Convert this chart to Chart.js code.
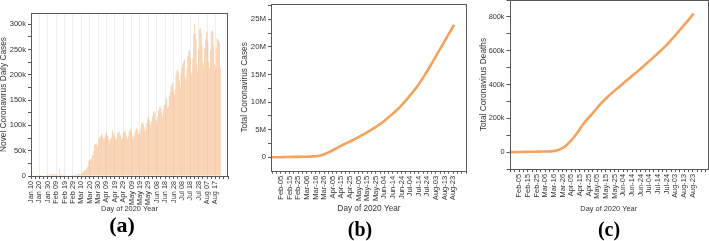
<!DOCTYPE html>
<html>
<head>
<meta charset="utf-8">
<script src="https://cdn.jsdelivr.net/npm/chart.js@4"></script>
<style>
  html, body { margin: 0; padding: 0; background: #fff; }
  body { width: 709px; height: 241px; position: relative; overflow: hidden; }
  canvas { position: absolute; }
  .panel-label { position: absolute; width: 100px; text-align: center; font-family: "Liberation Serif", "Times New Roman", serif; font-weight: bold; line-height: 1; color: #000; }
</style>
</head>
<body>
<canvas id="ca"></canvas>
<canvas id="cb"></canvas>
<canvas id="cc"></canvas>
<div class="panel-label" style="left:72px; top:214px; font-size:22px;">(a)</div>
<div class="panel-label" style="left:310px; top:219px; font-size:20px;">(b)</div>
<div class="panel-label" style="left:559px; top:219px; font-size:20px;">(c)</div>
<script>
// ---------------- DATA ----------------
// (a) daily new cases (thousands), one value per day starting Jan 10, 2020
const dailyStart = '01-10';
const dailyCasesK = [
  // Jan 10 - Jan 31
  0,0,0,0,0,0,0,0.1,0.1,0.1, 0.1,0.2,0.1,0.3,0.3,0.7,0.8,1.2,1.5,1.8,2.0,2.1,
  // Feb
  2.6,2.8,3.2,3.9,3.7,3.2,3.4,2.7,3.0,2.6, 2.0,2.0,14.2,4.1,2.6,2.1,2.0,1.9,0.6,0.9, 1.0,1.5,0.7,0.6,0.8,1.0,1.3,1.8,1.6,
  // Mar
  1.9,1.8,2.4,2.2,2.8,3.9,3.8,4.0,3.7,4.5, 7.0,7.5,10.8,10.8,11.0,14.0,17.0,20.0,29.0,32.0, 32.5,34.0,42.0,40.0,50.0,62.0,63.0,64.0,58.0,62.0,74.0,
  // Apr
  76,78,84,82,75,72,76,82,86,80, 78,72,70,74,76,90,86,82,78,72, 74,84,86,88,84,80,72,76,86,88,
  // May
  90,84,78,72,78,88,90,94,86,78, 72,80,86,92,96,92,84,82,88,94, 104,106,102,96,88,92,104,112,118,110,104,
  // Jun
  100,108,118,126,128,124,110,104,118,130, 136,138,134,126,118,132,140,142,156,150, 134,138,158,166,176,180,184,168,160,172,
  // Jul
  200,208,210,204,190,176,200,214,222,226, 230,196,190,212,236,246,250,234,200,206, 232,280,300,282,270,220,206,250,290,292,282,
  // Aug 1 - Aug 23
  260,224,220,252,270,284,286,264,226,214, 248,284,288,286,258,220,212,252,272,270, 266,262,214
];

// (b), (c) cumulative series
const cumDates = ['01-24','01-29','02-03','02-08','02-13','02-18','02-23','02-28','03-04','03-09','03-14',
  '03-19','03-24','03-29','04-03','04-08','04-13','04-18','04-23','04-28','05-03','05-08','05-13','05-18',
  '05-23','05-28','06-02','06-07','06-12','06-17','06-22','06-27','07-02','07-07','07-12','07-17','07-22',
  '07-27','08-01','08-06','08-11','08-16','08-21','08-24'];
const totalCasesM = [0.001,0.006,0.02,0.037,0.06,0.073,0.079,0.084,0.095,0.114,0.157,
  0.243,0.42,0.72,1.10,1.50,1.92,2.33,2.70,3.08,3.48,3.94,4.35,4.80,
  5.28,5.80,6.35,6.98,7.65,8.35,9.10,9.95,10.85,11.80,12.80,13.95,15.15,
  16.45,17.80,19.15,20.50,21.85,23.20,24.00];
const totalDeathsK = [0.03,0.13,0.43,0.81,1.38,2.0,2.47,2.87,3.28,4.0,5.8,
  10.0,19.0,34.0,59.0,88.0,122,160,192,220,250,281,307,332,
  355,377,399,420,442,463,485,507,530,553,576,600,624,
  651,680,710,740,770,800,820];

// tick labels
const xLabelsA = ['Jan 10','Jan 20','Jan 30','Feb 09','Feb 19','Feb 29','Mar 10','Mar 20','Mar 30','Apr 09',
  'Apr 19','Apr 29','May 09','May 19','May 29','Jun 08','Jun 18','Jun 28','Jul 08','Jul 18','Jul 28','Aug 07','Aug 17'];
const xLabelsBC = ['Feb-05','Feb-15','Feb-25','Mar-06','Mar-16','Mar-26','Apr-05','Apr-15','Apr-25','May-05',
  'May-15','May-25','Jun-04','Jun-14','Jun-24','Jul-04','Jul-14','Jul-24','Aug-03','Aug-13','Aug-23'];
const yTicksA = [0,50000,100000,150000,200000,250000,300000];
const yLabelsA = ['0','50k','100k','150k','200k','250k','300k'];
const yTicksB = [0,5e6,10e6,15e6,20e6,25e6];
const yLabelsB = ['0','5M','10M','15M','20M','25M'];
const yTicksC = [0,200000,400000,600000,800000];
const yLabelsC = ['0','200k','400k','600k','800k'];

// ---------------- HELPERS ----------------
const MON = {Jan:0,Feb:1,Mar:2,Apr:3,May:4,Jun:5,Jul:6,Aug:7,Sep:8};
function doyMD(md) { const [m,d] = md.split('-').map(Number); return (Date.UTC(2020,m-1,d)-Date.UTC(2020,0,1))/864e5; }
function doyLabel(lbl) { const [m,d] = lbl.split(/[ -]/); return (Date.UTC(2020,MON[m],+d)-Date.UTC(2020,0,1))/864e5; }
const FAM = '"Liberation Sans", Arial, sans-serif';
const TXT = '#333';

function withMinor(majors, lo, hi) {
  const step = majors[1]-majors[0], half = step/2, out = [];
  for (let v = majors[0]; v <= hi + 1e-9; v += half) if (v >= lo) out.push(v);
  for (let v = majors[0]-half; v >= lo; v -= half) out.unshift(v);
  return out;
}

function yScale(o) {
  const map = new Map(o.ticks.map((v,i)=>[v,o.labels[i]]));
  const all = withMinor(o.ticks, o.min, o.max);
  return {
    type: 'linear', min: o.min, max: o.max,
    afterBuildTicks: s => { s.ticks = all.map(v=>({value:v})); },
    afterFit: s => { s.width = o.width; s.paddingTop = 0; s.paddingBottom = 0; },
    ticks: { autoSkip:false, callback: v => map.has(v) ? map.get(v) : '', font:{family:FAM,size:o.fs}, color:TXT, padding:2 },
    grid: { drawOnChartArea:false, drawTicks:true, tickLength:3, tickColor:'#555', tickWidth:1 },
    border: { display:false },
    title: { display:true, text:o.title, font:{family:FAM,size:o.tfs}, color:TXT, padding:0 }
  };
}

function xScale(o) {
  const map = new Map(o.labels.map(l=>[doyLabel(l), l]));
  const majors = o.labels.map(doyLabel);
  const all = withMinor(majors, o.min, o.max);
  return {
    type: 'linear', min: o.min, max: o.max, offset:false,
    afterBuildTicks: s => { s.ticks = all.map(v=>({value:v})); },
    afterFit: s => { s.height = o.height; s.paddingLeft = 0; s.paddingRight = 0; },
    ticks: { autoSkip:false, maxRotation:90, minRotation:90, callback: v => map.has(v) ? map.get(v) : '', font:{family:FAM,size:o.fs}, color:TXT, padding:2 },
    grid: { offset:false, drawOnChartArea: !!o.grid, drawTicks:true, tickLength:3, tickColor:'#555', tickWidth:1,
            color: ctx => (ctx.tick && map.has(ctx.tick.value)) ? '#efefef' : 'rgba(0,0,0,0)' },
    border: { display:false },
    title: { display:true, text:'Day of 2020 Year', font:{family:FAM,size:o.tfs}, color:TXT, padding:0 }
  };
}

const framePlugin = {
  id: 'frame',
  afterDraw(chart) {
    const {left, top, right, bottom} = chart.chartArea, ctx = chart.ctx;
    ctx.save(); ctx.strokeStyle = '#5a5a5a'; ctx.lineWidth = 1;
    ctx.strokeRect(Math.round(left)+0.5, Math.round(top)+0.5, Math.round(right-left)-1, Math.round(bottom-top));
    ctx.restore();
  }
};

function setup(id, left, top, w, h) {
  const c = document.getElementById(id);
  c.width = w; c.height = h; c.style.left = left+'px'; c.style.top = top+'px';
  c.style.width = w+'px'; c.style.height = h+'px';
  return c;
}
const common = { responsive:false, animation:false, devicePixelRatio:1,
  plugins:{ legend:{display:false}, tooltip:{enabled:false} }, events:[] };

// ---------------- (a) ----------------
const startA = doyMD(dailyStart);
new Chart(setup('ca', -1, 0, 237, 213), {
  type: 'bar',
  data: { datasets: [{
    data: dailyCasesK.map((v,i)=>({x:startA+i, y:v*1000})),
    backgroundColor: 'rgba(243,172,112,0.62)', borderWidth:0,
    barPercentage: 0.9, categoryPercentage: 1.0
  }]},
  options: Object.assign({}, common, {
    layout: { padding: { top:13, right:8, left:0, bottom:0 } },
    scales: {
      x: xScale({labels:xLabelsA, min:9, max:244, height:37, fs:7.3, tfs:7.4, grid:true}),
      y: yScale({ticks:yTicksA, labels:yLabelsA, min:0, max:322000, width:32, fs:7.5, tfs:8.3, title:'Novel Coronavirus Daily Cases'})
    }
  }),
  plugins: [framePlugin]
});

// ---------------- (b) ----------------
new Chart(setup('cb', 240, 0, 230, 214), {
  type: 'line',
  data: { datasets: [{
    data: cumDates.map((d,i)=>({x:doyMD(d), y:totalCasesM[i]*1e6})),
    borderColor: '#F4A25E', borderWidth: 2.6, pointRadius: 0, fill:false,
    cubicInterpolationMode: 'monotone'
  }]},
  options: Object.assign({}, common, {
    layout: { padding: { top:4, right:3, left:0, bottom:0 } },
    scales: {
      x: xScale({labels:xLabelsBC, min:23.4, max:251, height:43.3, fs:7.6, tfs:8.2}),
      y: yScale({ticks:yTicksB, labels:yLabelsB, min:-2.43e6, max:27.77e6, width:31, fs:7.8, tfs:8.3, title:'Total Coronavirus Cases'})
    }
  }),
  plugins: [framePlugin]
});

// ---------------- (c) ----------------
new Chart(setup('cc', 479, 0, 230, 213), {
  type: 'line',
  data: { datasets: [{
    data: cumDates.map((d,i)=>({x:doyMD(d), y:totalDeathsK[i]*1000})),
    borderColor: '#F4A25E', borderWidth: 2.6, pointRadius: 0, fill:false,
    cubicInterpolationMode: 'monotone'
  }]},
  options: Object.assign({}, common, {
    layout: { padding: { top:0, right:1, left:0, bottom:0 } },
    scales: {
      x: xScale({labels:xLabelsBC, min:23.8, max:252.6, height:44, fs:7.4, tfs:7.4}),
      y: yScale({ticks:yTicksC, labels:yLabelsC, min:-100000, max:900000, width:30.5, fs:7.3, tfs:8.3, title:'Total Coronavirus Deaths'})
    }
  }),
  plugins: [framePlugin]
});
</script>
</body>
</html>
